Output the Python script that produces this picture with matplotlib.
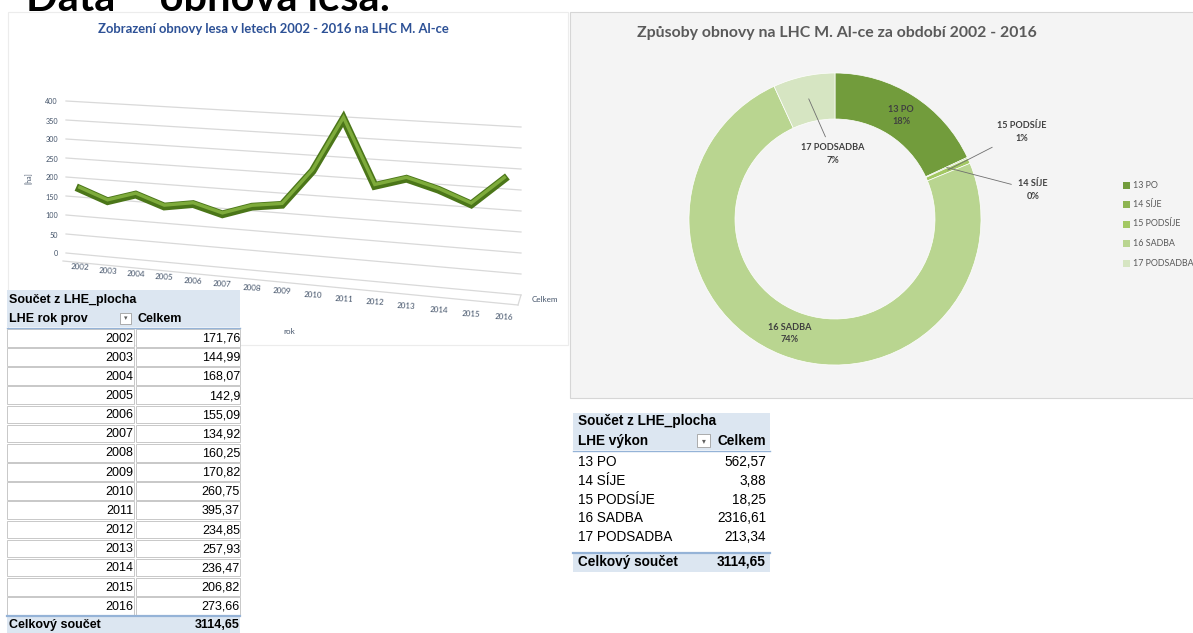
import numpy as np
import matplotlib
matplotlib.use("Agg")
import matplotlib.pyplot as plt
import matplotlib.transforms as mtransforms
from matplotlib.patches import Rectangle

# ---------------------------------------------------------------- data
years = [2002, 2003, 2004, 2005, 2006, 2007, 2008, 2009,
         2010, 2011, 2012, 2013, 2014, 2015, 2016]
area = [171.76, 144.99, 168.07, 142.9, 155.09, 134.92, 160.25, 170.82,
        260.75, 395.37, 234.85, 257.93, 236.47, 206.82, 273.66]
y_ticks = [0, 50, 100, 150, 200, 250, 300, 350, 400]

methods = ["13 PO", "14 SÍJE", "15 PODSÍJE", "16 SADBA", "17 PODSADBA"]
method_area = [562.57, 3.88, 18.25, 2316.61, 213.34]
method_colors = ["#729c3c", "#8db451", "#a3c863", "#b9d590", "#d6e5c2"]

W, H = 1193, 633
LATO = ["Lato", "DejaVu Sans"]
NARROW = ["Liberation Sans Narrow", "Liberation Sans", "DejaVu Sans"]


def fmt(v):
    return f"{v:g}".replace(".", ",")


# ------------------------------------------------ perspective transform
class Perspective(mtransforms.Transform):
    input_dims = 2
    output_dims = 2

    def __init__(self, src, dst):
        super().__init__()
        A, b = [], []
        for (x, y), (X, Y) in zip(src, dst):
            A.append([x, y, 1, 0, 0, 0, -X * x, -X * y]); b.append(X)
            A.append([0, 0, 0, x, y, 1, -Y * x, -Y * y]); b.append(Y)
        h = np.linalg.solve(np.array(A, float), np.array(b, float))
        self.M = np.append(h, 1.0).reshape(3, 3)

    def transform_non_affine(self, values):
        values = np.asarray(values, float)
        p = np.column_stack([values, np.ones(len(values))]) @ self.M.T
        return p[:, :2] / p[:, 2:3]

    def point(self, u, v):
        return self.transform_non_affine([[u, v]])[0]


fig = plt.figure(figsize=(W / 100, H / 100), dpi=100)
fig.patch.set_facecolor("white")
canvas = fig.add_axes([0, 0, 1, 1])
canvas.set_autoscale_on(False)
canvas.set_xlim(0, W)
canvas.set_ylim(H, 0)
canvas.axis("off")

# slide heading (partly above the top edge)
canvas.text(26, 11, "Data – obnova lesa:", family=LATO, fontsize=30,
            fontweight="bold", color="black", ha="left", va="baseline")

# panels
canvas.add_patch(Rectangle((8, 12), 560, 333, fc="white", ec="#ececec",
                           lw=0.8, zorder=1))
canvas.add_patch(Rectangle((570, 12), 630, 386, fc="#f4f4f4", ec="#d6d6d6",
                           lw=0.8, zorder=1))

# ---------------------------------------------------- 3-D style line chart
n = len(years)
u_lo, u_hi = -0.5, n - 0.5
persp = Perspective(
    [(u_lo, 0), (u_lo, 400), (u_hi, 0), (u_hi, 400)],
    [(66, 253), (66, 101), (521, 295), (521, 127)])
wall = persp + canvas.transData

for v in y_ticks:
    canvas.plot([u_lo, u_hi], [v, v], transform=wall, color="#d9d9d9",
                lw=0.9, zorder=2)
    x0, y0 = persp.point(u_lo, v)
    canvas.text(x0 - 8, y0 + 1, str(v), family=LATO, fontsize=5.2,
                color="#44546a", ha="right", va="center", zorder=3)

# floor front edge
fl = np.array([persp.point(u_lo, 0), persp.point(u_hi, 0)])
canvas.plot([fl[0, 0] - 3, fl[1, 0] - 3], [fl[0, 1] + 8, fl[1, 1] + 10],
            color="#d9d9d9", lw=0.9, zorder=2)
canvas.plot([fl[1, 0], fl[1, 0] - 3], [fl[1, 1], fl[1, 1] + 10],
            color="#d9d9d9", lw=0.9, zorder=2)

u = np.arange(n)
canvas.plot(u, area, transform=wall, color="#4b7619", lw=5.6,
            solid_joinstyle="miter", zorder=4)
canvas.plot(u, area, transform=mtransforms.offset_copy(wall, fig=fig, x=0, y=1.0,
                                                       units="points"),
            color="#7eab3b", lw=2.4, solid_joinstyle="miter", zorder=5)

for i, yr in enumerate(years):
    x0, y0 = persp.point(i, 0)
    canvas.text(x0, y0 + 13 + 11 * i / (n - 1), str(yr), family=LATO,
                fontsize=5.8, color="#44546a", ha="center", va="center",
                rotation=-3, zorder=3)
xe, ye = persp.point(u_hi, 0)
canvas.text(xe + 11, ye + 5, "Celkem", family=LATO, fontsize=5.8,
            color="#44546a", ha="left", va="center", zorder=3)
canvas.text(29, 178, "[ha]", family=LATO, fontsize=5, color="#44546a",
            rotation=90, ha="center", va="center", zorder=3)
canvas.text(289, 331, "rok", family=LATO, fontsize=5.8, color="#44546a",
            ha="center", va="center", zorder=3)
canvas.text(273, 29, "Zobrazení obnovy lesa v letech 2002 - 2016 na LHC M. Al-ce",
            family=LATO, fontsize=9.4, fontweight="bold", color="#2d5196",
            ha="center", va="center", zorder=3)

# ----------------------------------------------------------------- donut
R_px, cx, cy = 146, 835, 219
donut = fig.add_axes([(cx - R_px) / W, (H - cy - R_px) / H,
                      2 * R_px / W, 2 * R_px / H])
donut.patch.set_visible(False)
wedges, _ = donut.pie(method_area, colors=method_colors, startangle=90,
                      counterclock=False, radius=1,
                      wedgeprops=dict(width=46 / R_px, edgecolor="white",
                                      linewidth=0.5))
donut.set_xlim(-1, 1)
donut.set_ylim(-1, 1)
donut.axis("off")

total = sum(method_area)
fracs = [a / total for a in method_area]
cum = np.cumsum([0] + fracs[:-1])
mid_ang = [np.deg2rad(90 - 360 * (c + f / 2)) for c, f in zip(cum, fracs)]
r_mid = 1 - 23 / R_px
lab = [f"{m}\n{f * 100:.0f}%" for m, f in zip(methods, fracs)]
lab_kw = dict(family=LATO, fontsize=6.6, fontweight="bold", color="#404040",
              ha="center", va="center", linespacing=1.45)

for i in (0, 3):
    donut.text(r_mid * np.cos(mid_ang[i]), r_mid * np.sin(mid_ang[i]),
               lab[i], **lab_kw)

callouts = {1: (1033, 190), 2: (1022, 132), 4: (833, 154)}
for i, (tx, ty) in callouts.items():
    donut.annotate(lab[i], xy=(r_mid * np.cos(mid_ang[i]),
                               r_mid * np.sin(mid_ang[i])),
                   xytext=(tx, ty), textcoords=canvas.transData,
                   arrowprops=dict(arrowstyle="-", color="#6f6f6f", lw=0.6,
                                   shrinkA=3, shrinkB=0),
                   annotation_clip=False, **lab_kw)

canvas.text(837, 33, "Způsoby obnovy na LHC M. Al-ce za období 2002 - 2016",
            family=LATO, fontsize=11.4, fontweight="bold", color="#5a5a5a",
            ha="center", va="center", zorder=3)

# legend
for i, (m, c) in enumerate(zip(methods, method_colors)):
    ly = 185 + 19.5 * i
    canvas.add_patch(Rectangle((1123, ly - 3.5), 7, 7, fc=c, ec="none",
                               zorder=3))
    canvas.text(1133, ly, m, family=LATO, fontsize=6.4, color="#595959",
                ha="left", va="center", zorder=3)

# ------------------------------------------------------ pivot table (years)
HDR = "#dce6f1"
LINE = "#95b3d7"
tz = 10
canvas.add_patch(Rectangle((7, 290), 233, 37, fc=HDR, ec="none", zorder=tz))
tk = dict(family=NARROW, fontsize=9.0, color="black", va="center", zorder=tz + 1)
canvas.text(9, 300, "Součet z LHE_plocha", fontweight="bold", ha="left", **tk)
canvas.text(9, 319, "LHE rok prov", fontweight="bold", ha="left", **tk)
canvas.add_patch(Rectangle((120, 313), 11, 11, fc="white", ec="#a0a0a0",
                           lw=0.6, zorder=tz + 1))
canvas.text(125.5, 318.5, "▾", family=["DejaVu Sans"], fontsize=5,
            color="#606060", ha="center", va="center", zorder=tz + 2)
canvas.text(137, 319, "Celkem", fontweight="bold", ha="left", **tk)
canvas.plot([7, 240], [327.5, 327.5], color=LINE, lw=1, zorder=tz + 1)

row_h = 19.15
for i, (yr, a) in enumerate(zip(years, area)):
    ry = 329 + row_h * i
    canvas.add_patch(Rectangle((7, ry), 127, row_h - 1.5, fc="white",
                               ec="#c8c8c8", lw=0.7, zorder=tz))
    canvas.add_patch(Rectangle((136, ry), 104, row_h - 1.5, fc="white",
                               ec="#c8c8c8", lw=0.7, zorder=tz))
    cyr = ry + row_h / 2
    canvas.text(133, cyr, str(yr), ha="right", **tk)
    canvas.text(240, cyr, fmt(a), ha="right", **tk)

tot_y = 329 + row_h * n
canvas.add_patch(Rectangle((7, tot_y), 233, 20, fc=HDR, ec="none", zorder=tz))
canvas.plot([7, 240], [tot_y, tot_y], color=LINE, lw=1.6, zorder=tz + 1)
canvas.text(9, tot_y + 9, "Celkový součet", fontweight="bold", ha="left", **tk)
canvas.text(240, tot_y + 9, fmt(round(sum(area), 2)), fontweight="bold",
            ha="right", **tk)

# ---------------------------------------------------- pivot table (methods)
canvas.add_patch(Rectangle((573, 413), 197, 37, fc=HDR, ec="none", zorder=tz))
tk2 = dict(tk, fontsize=9.8)
canvas.text(578, 421, "Součet z LHE_plocha", fontweight="bold", ha="left", **tk2)
canvas.text(578, 441, "LHE výkon", fontweight="bold", ha="left", **tk2)
canvas.add_patch(Rectangle((697, 434), 13, 13, fc="white", ec="#a0a0a0",
                           lw=0.6, zorder=tz + 1))
canvas.text(703.5, 440.5, "▾", family=["DejaVu Sans"], fontsize=5.5,
            color="#606060", ha="center", va="center", zorder=tz + 2)
canvas.text(766, 441, "Celkem", fontweight="bold", ha="right", **tk2)
canvas.plot([573, 770], [450.5, 450.5], color=LINE, lw=1, zorder=tz + 1)

for i, (m, a) in enumerate(zip(methods, method_area)):
    ry = 462 + 18.8 * i
    canvas.text(578, ry, m, ha="left", **tk2)
    canvas.text(766, ry, fmt(a), ha="right", **tk2)

canvas.add_patch(Rectangle((573, 553), 197, 19, fc=HDR, ec="none", zorder=tz))
canvas.plot([573, 770], [553, 553], color=LINE, lw=1.6, zorder=tz + 1)
canvas.text(578, 562, "Celkový součet", fontweight="bold", ha="left", **tk2)
canvas.text(766, 562, fmt(round(total, 2)), fontweight="bold", ha="right", **tk2)

fig.savefig("out.png", dpi=100)
